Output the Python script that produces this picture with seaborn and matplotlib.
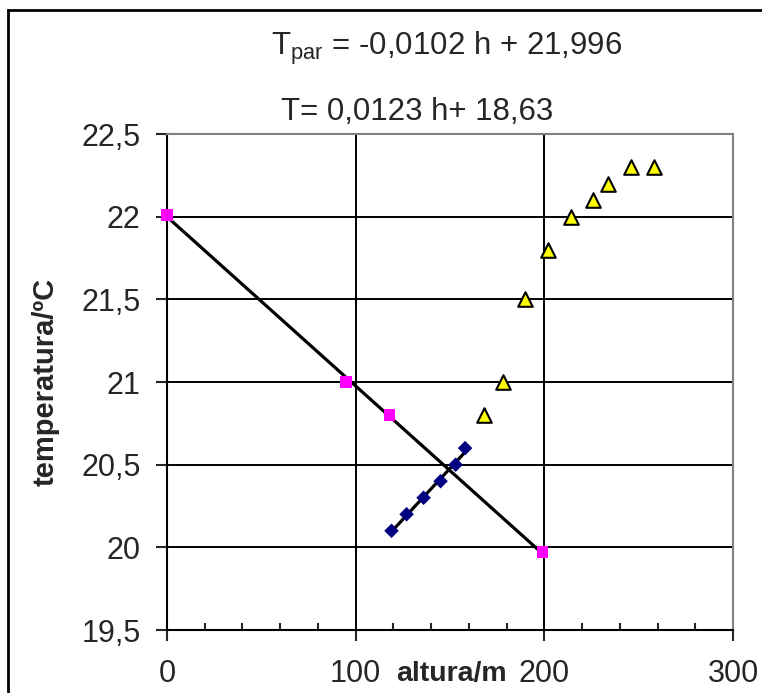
import matplotlib
matplotlib.use("Agg")
import matplotlib.pyplot as plt
import seaborn as sns
import pandas as pd
from matplotlib.ticker import MultipleLocator, FuncFormatter
from matplotlib.patches import Rectangle

# data
h_par = [0, 95, 118, 199]
t_par = [22.01, 21.0, 20.8, 19.97]

h_ar = [119, 127, 136, 145, 153, 158]
t_ar = [20.1, 20.2, 20.3, 20.4, 20.5, 20.6]

h_alto = [168, 178, 190, 202, 214, 226, 234, 246, 258]
t_alto = [20.8, 21.0, 21.5, 21.8, 22.0, 22.1, 22.2, 22.3, 22.3]

eq_par = "$\\mathregular{T_{par}}$ = -0,0102 h + 21,996"
eq_ar = "T= 0,0123 h+ 18,63"

sns.set_style("white")
plt.rcParams["font.family"] = ["Liberation Sans", "DejaVu Sans"]
plt.rcParams["mathtext.fontset"] = "custom"
plt.rcParams["mathtext.rm"] = "Liberation Sans"

df_par = pd.DataFrame({"h": h_par, "T": t_par})
df_ar = pd.DataFrame({"h": h_ar, "T": t_ar})
df_alto = pd.DataFrame({"h": h_alto, "T": t_alto})

fig = plt.figure(figsize=(7.62, 6.93), dpi=100)
ax = fig.add_axes([167 / 762, 1 - 630 / 693, (733 - 167) / 762, (630 - 134) / 693])

# grelha
ax.grid(True, which="major", color="black", linewidth=1.4)
ax.set_axisbelow(True)

# rectas de regressao
line_kws = {"color": "black", "linewidth": 2.3, "zorder": 3}
sns.regplot(data=df_par, x="h", y="T", scatter=False, ci=None, truncate=True,
            line_kws=line_kws, ax=ax)
sns.regplot(data=df_ar, x="h", y="T", scatter=False, ci=None, truncate=True,
            line_kws=line_kws, ax=ax)

# pontos
sns.scatterplot(data=df_par, x="h", y="T", marker="s", s=70, color="#FF00FF",
                edgecolor="none", linewidth=0, zorder=4, clip_on=False, ax=ax)
sns.scatterplot(data=df_ar, x="h", y="T", marker="D", s=55, color="#000080",
                edgecolor="none", linewidth=0, zorder=4, clip_on=False, ax=ax)
sns.scatterplot(data=df_alto, x="h", y="T", marker="^", s=110, color="#FFFF00",
                edgecolor="black", linewidth=1.5, zorder=4, clip_on=False, ax=ax)

ax.set_xlim(0, 300)
ax.set_ylim(19.5, 22.5)
ax.xaxis.set_major_locator(MultipleLocator(100))
ax.xaxis.set_minor_locator(MultipleLocator(20))
ax.yaxis.set_major_locator(MultipleLocator(0.5))

virgula = FuncFormatter(lambda v, p: f"{v:g}".replace(".", ","))
ax.xaxis.set_major_formatter(virgula)
ax.yaxis.set_major_formatter(virgula)

ax.tick_params(axis="x", which="major", direction="out", length=8, width=1.5,
               pad=13, labelsize=22, bottom=True)
ax.tick_params(axis="x", which="minor", direction="in", length=5, width=1.5,
               bottom=True)
ax.tick_params(axis="y", which="major", direction="out", length=8, width=1.5,
               pad=11, labelsize=22, left=True)

for lado in ["left", "bottom"]:
    ax.spines[lado].set_color("black")
    ax.spines[lado].set_linewidth(1.5)
for lado in ["top", "right"]:
    ax.spines[lado].set_color("#808080")
    ax.spines[lado].set_linewidth(1.5)

ax.set_xlabel("altura/m", fontsize=20.5, fontweight="bold")
ax.xaxis.set_label_coords(0.502, -0.089)
ax.xaxis.label.set_va("center")
ax.set_ylabel("temperatura/ºC", fontsize=21, fontweight="bold")
ax.yaxis.set_label_coords(-(167 - 46) / 566, 0.5)
ax.yaxis.label.set_va("center")

fig.text(447 / 762, 1 - 55 / 693, eq_par, fontsize=22.5, ha="center", va="baseline")
fig.text(417 / 762, 1 - 120 / 693, eq_ar, fontsize=22.5, ha="center", va="baseline")

# moldura exterior
fig.patches.append(Rectangle((8 / 762, -0.1), 1.2, 1 - 10 / 693 + 0.1,
                             transform=fig.transFigure, fill=False,
                             edgecolor="black", linewidth=2))

plt.savefig("out.png", dpi=100)
plt.close()
